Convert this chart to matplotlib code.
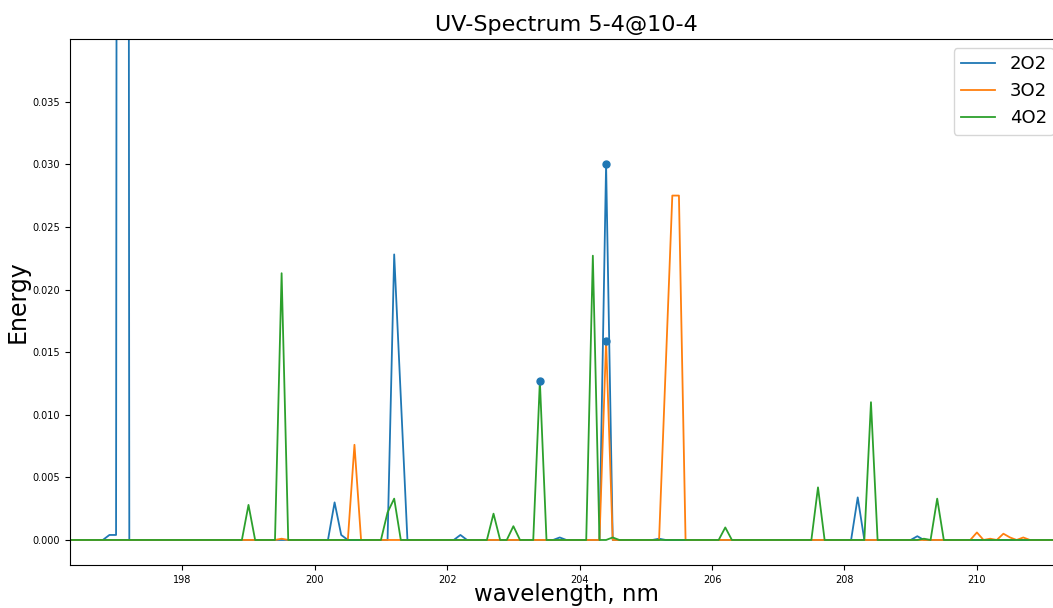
import numpy as np
import matplotlib.pyplot as plt

# wavelength grid, nm (0.1 nm step)
wl = np.round(np.arange(1963, 2115) / 10, 1)

# nonzero points of each spectrum (wavelength, energy); everything else is 0
peaks_2o2 = [(196.9, 0.0004), (197.0, 0.0004), (197.1, 0.6),
             (200.3, 0.0030), (200.4, 0.0004),
             (201.2, 0.0228), (201.3, 0.0114),
             (202.2, 0.0004), (203.7, 0.0002),
             (204.4, 0.0300), (205.2, 0.0001),
             (208.2, 0.0034), (209.1, 0.0003)]
peaks_3o2 = [(199.5, 0.0001), (200.6, 0.0076),
             (204.4, 0.0159),
             (205.3, 0.0137), (205.4, 0.0275), (205.5, 0.0275),
             (210.0, 0.0006), (210.2, 0.0001), (210.4, 0.0005),
             (210.5, 0.0002), (210.7, 0.0002)]
peaks_4o2 = [(199.0, 0.0028), (199.5, 0.0213),
             (201.1, 0.0022), (201.2, 0.0033),
             (202.7, 0.0021), (203.0, 0.0011),
             (203.4, 0.0127), (204.2, 0.0227), (204.5, 0.0002),
             (206.2, 0.0010), (207.6, 0.0042),
             (208.4, 0.0110), (209.2, 0.0001), (209.4, 0.0033)]

# highlighted points
mark_x = [203.4, 204.4, 204.4]
mark_y = [0.0127, 0.0300, 0.0159]

labels = ['2O2', '3O2', '4O2']


def build(peaks):
    y = np.zeros(len(wl))
    for w, v in peaks:
        y[np.argmin(np.abs(wl - w))] = v
    return y


series = [build(peaks_2o2), build(peaks_3o2), build(peaks_4o2)]

fig = plt.figure(figsize=(10.53, 6.08), dpi=100)
ax = fig.add_axes([0.0662, 0.0707, 0.9433, 0.8651])

for y, lab in zip(series, labels):
    ax.plot(wl, y, linewidth=1.3, label=lab)
ax.plot(mark_x, mark_y, 'o', color='C0', markersize=5)

ax.set_xlim(196.3, 211.3)
ax.set_ylim(-0.002, 0.04)
ax.set_xticks([198, 200, 202, 204, 206, 208, 210])
ax.set_yticks(np.arange(0, 0.0351, 0.005))
ax.yaxis.set_major_formatter(plt.FormatStrFormatter('%.3f'))
ax.tick_params(labelsize=7)

ax.set_title('UV-Spectrum 5-4@10-4', fontsize=16)
ax.set_xlabel('wavelength, nm', fontsize=16.5, labelpad=-1)
ax.set_ylabel('Energy', fontsize=17, labelpad=2)
ax.legend(fontsize=13, loc='upper right', handlelength=1.9)

fig.savefig('out.png', dpi=100)
